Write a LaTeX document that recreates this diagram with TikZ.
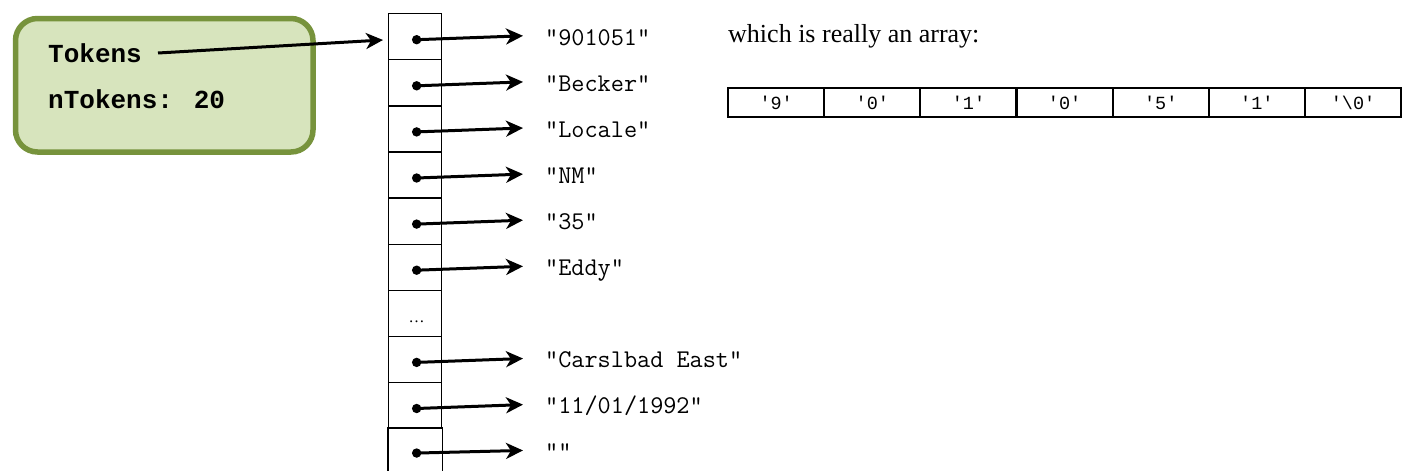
\documentclass[tikz,border=0pt]{standalone}
\usepackage{fontspec}
\setmainfont{Liberation Serif}
\newfontfamily\code{Liberation Mono}
\newfontfamily\strfont{Latin Modern Mono}
\usetikzlibrary{arrows.meta,calc}
\definecolor{boxedge}{HTML}{77933C}
\definecolor{boxfill}{HTML}{D7E4BD}

\begin{document}
\begin{tikzpicture}[x=1pt,y=-1pt,
  ptr/.style={line width=3pt,-{Stealth[length=17pt,width=16pt,inset=5pt]}},
  dot/.style={fill=black},
  strlabel/.style={anchor=base west,inner sep=0pt,text height=22pt,text depth=2pt,
    font=\strfont\fontsize{25.5}{28}\selectfont},
  fieldlabel/.style={anchor=base west,inner sep=0pt,
    font=\code\bfseries\fontsize{26}{30}\selectfont},
  slot/.style={draw,line width=1.3pt,minimum width=53pt,minimum height=46.1pt,
    inner sep=0pt,anchor=north west},
  charcell/.style={draw,line width=2.2pt,minimum width=96.14pt,minimum height=29pt,
    inner sep=0pt,anchor=north west,font=\code\fontsize{18.5}{20}\selectfont},
  structbox/.style={draw=boxedge,fill=boxfill,line width=5.5pt,rounded corners=22pt,
    minimum width=297.5pt,minimum height=133.5pt,anchor=north west,inner sep=0pt}
]
\useasboundingbox (0,0) rectangle (1405,471);

% struct holding the token table
\node[structbox] (struct) at (12.75,15.75) {};
\node[fieldlabel] (tok) at (48,62) {Tokens};
\node[fieldlabel] (ntok) at (48,108) {nTokens: 20};
\coordinate (tokptr) at (158,53);

% array of pointers
\foreach \k in {0,...,8}{
  \node[slot] (c\k) at (388,{13+46.1*\k}) {};
}
\node[slot,draw=none,minimum height=43pt] (c9) at (388,427.9) {};
\draw[line width=1.3pt] (c9.south west) -- (c9.north west) -- (c9.north east) -- (c9.south east);
\node[anchor=base,inner sep=0pt,font=\fontsize{16}{18}\selectfont] (gap) at ($(c6.center)+(1.5,9)$) {…};

\draw[ptr,shorten >=5pt] (tokptr) -- ($(c0.west)+(0,3)$);

% strings the pointers refer to
\node[strlabel] (t0) at (545,45) {"901051"};
\node[strlabel] (t1) at (545,91.1) {"Becker"};
\node[strlabel] (t2) at (545,137.2) {"Locale"};
\node[strlabel] (t3) at (545,183.3) {"NM"};
\node[strlabel] (t4) at (545,229.4) {"35"};
\node[strlabel] (t5) at (545,275.5) {"Eddy"};
\node[strlabel] (t7) at (545,367.7) {"Carslbad East"};
\node[strlabel] (t8) at (545,413.8) {"11/01/1992"};
\node[strlabel] (t9) at (545,459.9) {""};

\foreach \k in {0,1,2,3,4,5,7,8,9}{
  \coordinate (d\k) at ($(c\k.center)+(1.5,3)$);
  \fill[dot] (d\k) circle (4.7pt);
  \draw[ptr,shorten >=22pt] (d\k) -- (t\k.west);
}

% character array of the first string
\node[anchor=base west,inner sep=0pt,font=\fontsize{26}{30}\selectfont] (note) at (728,42) {which is really an array:};
\foreach \ch [count=\i from 0] in {'9','0','1','0','5','1','\textbackslash 0'}{
  \node[charcell] (a\i) at ({727+96.14*\i},87) {\ch};
}
\end{tikzpicture}
\end{document}
